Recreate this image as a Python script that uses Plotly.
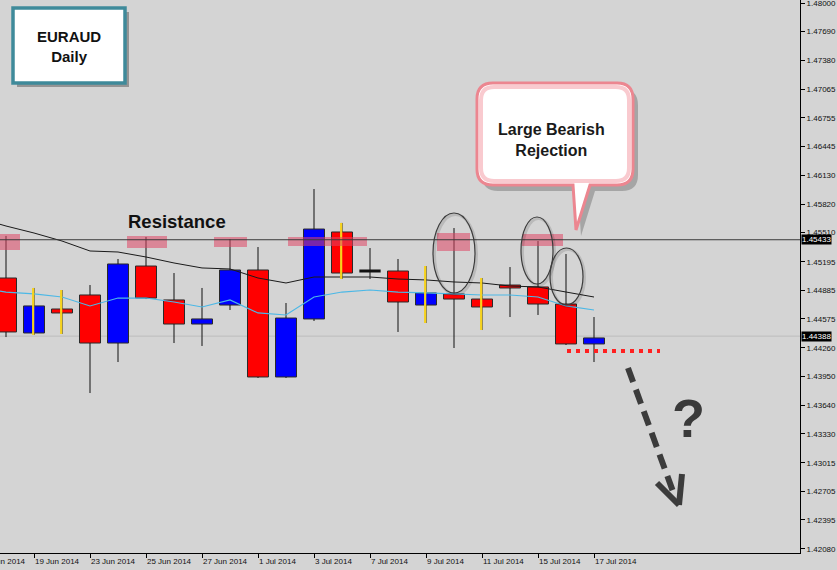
import plotly.graph_objects as go

# ---------------- data ----------------
dates = ["17 Jun 2014", "18 Jun 2014", "19 Jun 2014", "20 Jun 2014", "23 Jun 2014",
         "24 Jun 2014", "25 Jun 2014", "26 Jun 2014", "27 Jun 2014", "30 Jun 2014",
         "1 Jul 2014", "2 Jul 2014", "3 Jul 2014", "4 Jul 2014", "7 Jul 2014",
         "8 Jul 2014", "9 Jul 2014", "10 Jul 2014", "11 Jul 2014", "14 Jul 2014",
         "15 Jul 2014", "16 Jul 2014", "17 Jul 2014"]

opens  = [1.45018, 1.44422, 1.44682, 1.44834, 1.44313, 1.45148, 1.44780, 1.44519,
          1.44725, 1.45105, 1.43945, 1.44574, 1.45517, 1.45094, 1.45094, 1.44725,
          1.44845, 1.44790, 1.44942, 1.44921, 1.44736, 1.44303]
highs  = [1.45474, 1.44910, 1.44888, 1.44942, 1.45224, 1.45463, 1.45072, 1.44910,
          1.45441, 1.45354, 1.44747, 1.45983, 1.45615, 1.45343, 1.45224, 1.45148,
          1.45560, 1.45018, 1.45137, 1.45419, 1.45278, 1.44595]
lows   = [1.44378, 1.44400, 1.44411, 1.43771, 1.44107, 1.44790, 1.44313, 1.44281,
          1.44671, 1.43934, 1.43934, 1.44552, 1.45007, 1.45007, 1.44433, 1.44530,
          1.44259, 1.44454, 1.44595, 1.44617, 1.44292, 1.44107]
closes = [1.44433, 1.44715, 1.44639, 1.44313, 1.45170, 1.44801, 1.44519, 1.44574,
          1.45105, 1.43945, 1.44584, 1.45549, 1.45072, 1.45094, 1.44758, 1.44856,
          1.44790, 1.44704, 1.44910, 1.44736, 1.44303, 1.44368]

ma_slow = [1.45669, 1.45582, 1.45506, 1.45419, 1.45311, 1.45300, 1.45246, 1.45181,
           1.45127, 1.45116, 1.45018, 1.44964, 1.45029, 1.45029, 1.45029, 1.45007,
           1.44997, 1.44975, 1.44964, 1.44931, 1.44921, 1.44866, 1.44812]
ma_fast = [1.44910, 1.44866, 1.44845, 1.44812, 1.44715, 1.44801, 1.44801, 1.44758,
           1.44704, 1.44780, 1.44639, 1.44617, 1.44812, 1.44866, 1.44888, 1.44866,
           1.44856, 1.44845, 1.44834, 1.44834, 1.44812, 1.44715, 1.44671]

yellow_days = ["19 Jun 2014", "20 Jun 2014", "4 Jul 2014", "9 Jul 2014", "11 Jul 2014"]

resistance = 1.45433
last_price = 1.44388

ytick_vals = [1.48000, 1.47690, 1.47380, 1.47065, 1.46755, 1.46445, 1.46130,
              1.45820, 1.45510, 1.45195, 1.44885, 1.44575, 1.44260, 1.43950,
              1.43640, 1.43330, 1.43015, 1.42705, 1.42395, 1.42080]

# ---------------- figure ----------------
BG = "#d4d4d4"
FONT = "Liberation Sans, Arial, sans-serif"
candle_dates = dates[1:]
cx = list(range(len(candle_dates)))
ma_x = list(range(-1, len(candle_dates)))

fig = go.Figure()

# bodies
body_base, body_h, body_col, body_x = [], [], [], []
doji_x, doji_y = [], []
for i, (o, c) in enumerate(zip(opens, closes)):
    if abs(c - o) < 1e-9:
        doji_x += [i - 0.38, i + 0.38, None]
        doji_y += [c, c, None]
        continue
    body_x.append(i)
    body_base.append(min(o, c))
    body_h.append(abs(c - o))
    body_col.append("#0000ff" if c > o else "#ff0000")

fig.add_trace(go.Bar(x=body_x, y=body_h, base=body_base, width=0.75,
                     marker=dict(color=body_col, line=dict(color="#2a2a2a", width=1)),
                     hoverinfo="skip", showlegend=False))

# wicks (split so they do not cross bodies)
wx, wy = [], []
for i in cx:
    top = max(opens[i], closes[i]); bot = min(opens[i], closes[i])
    wx += [i, i, None, i, i, None]
    wy += [highs[i], top, None, bot, lows[i], None]
fig.add_trace(go.Scatter(x=wx, y=wy, mode="lines", line=dict(color="#111111", width=1),
                         hoverinfo="skip", showlegend=False))
fig.add_trace(go.Scatter(x=doji_x, y=doji_y, mode="lines", line=dict(color="#111111", width=3),
                         hoverinfo="skip", showlegend=False))

# moving averages
fig.add_trace(go.Scatter(x=ma_x, y=ma_slow, mode="lines", line=dict(color="#1a1a1a", width=1),
                         hoverinfo="skip", showlegend=False))
fig.add_trace(go.Scatter(x=ma_x, y=ma_fast, mode="lines", line=dict(color="#4cb8e6", width=1.2),
                         hoverinfo="skip", showlegend=False))

# yellow highlighted wicks
yx, yy = [], []
for d in yellow_days:
    i = candle_dates.index(d)
    yx += [i - 0.03, i - 0.03, None]
    yy += [highs[i], lows[i], None]
fig.add_trace(go.Scatter(x=yx, y=yy, mode="lines", line=dict(color="#f6d21c", width=2.2),
                         hoverinfo="skip", showlegend=False))

# ---------------- decorations (pixel helpers, plot area 800x553) ----------------
PW, PH = 800.0, 553.0
def X(p): return p / PW
def Y(p): return 1 - p / PH
def pt(x, y): return f"{X(x):.5f},{Y(y):.5f}"

shapes = []
def rect(x0, y0, x1, y1, **kw):
    shapes.append(dict(type="rect", xref="paper", yref="paper",
                       x0=X(x0), x1=X(x1), y0=Y(y1), y1=Y(y0), **kw))
def line(x0, y0, x1, y1, **kw):
    shapes.append(dict(type="line", xref="paper", yref="paper",
                       x0=X(x0), x1=X(x1), y0=Y(y0), y1=Y(y1), **kw))
def ellipse(x0, y0, x1, y1, **kw):
    shapes.append(dict(type="circle", xref="paper", yref="paper",
                       x0=X(x0), x1=X(x1), y0=Y(y1), y1=Y(y0), **kw))
def rrect_path(x0, y0, x1, y1, r, tail=None):
    s = f"M {pt(x0 + r, y0)} L {pt(x1 - r, y0)} Q {pt(x1, y0)} {pt(x1, y0 + r)} "
    s += f"L {pt(x1, y1 - r)} Q {pt(x1, y1)} {pt(x1 - r, y1)} "
    if tail:
        ta, tip, tb = tail
        s += f"L {pt(tb, y1)} L {pt(*tip)} L {pt(ta, y1)} "
    s += f"L {pt(x0 + r, y1)} Q {pt(x0, y1)} {pt(x0, y1 - r)} "
    s += f"L {pt(x0, y0 + r)} Q {pt(x0, y0)} {pt(x0 + r, y0)} Z"
    return s

# current price line
shapes.append(dict(type="line", xref="paper", yref="y", x0=0, x1=1, y0=last_price, y1=last_price,
                   line=dict(color="#bdbdbd", width=1), layer="below"))

# pink resistance zones
PINK = "rgba(222,70,100,0.55)"
for (a, b, c, d) in [(0, 234, 20, 250), (127, 236, 167, 248), (214, 237, 247, 247),
                     (288, 237, 367, 246), (437, 233, 470, 251), (522, 234, 563, 246)]:
    rect(a, b, c, d, fillcolor=PINK, line=dict(width=0))

shapes.append(dict(type="line", xref="paper", yref="y", x0=0, x1=1, y0=resistance, y1=resistance,
                   line=dict(color="#3a3a3a", width=1)))

# ellipses with soft shadow
for (a, b, c, d) in [(433, 213, 475, 293), (521, 217, 553, 284), (550, 248, 583, 305)]:
    ellipse(a + 1.5, b + 1.5, c + 1.5, d + 1.5, line=dict(color="rgba(0,0,0,0.12)", width=3))
    ellipse(a, b, c, d, line=dict(color="#3c3c3c", width=1.2))

# red dotted support line
line(567, 351, 660, 351, line=dict(color="#ff2020", width=4, dash="4px,5px"))

# dashed arrow
ARW = "#3c3c3c"
line(628, 368, 675, 497, line=dict(color=ARW, width=6, dash="15px,8px"))
line(657, 483, 679, 505, line=dict(color=ARW, width=6))
line(682, 474, 679, 505, line=dict(color=ARW, width=6))

# title box
rect(17, 12, 129, 87, fillcolor="rgba(0,0,0,0.30)", line=dict(width=0))
rect(13, 8, 125, 83, fillcolor="white", line=dict(color="#3f8a9a", width=3.5))

# callout
tail = (573, (576, 230), 590)
shapes.append(dict(type="path", xref="paper", yref="paper",
                   path=rrect_path(482, 89, 638, 191, 16, (578, (581, 236), 595)),
                   fillcolor="rgba(0,0,0,0.22)", line=dict(width=0)))
shapes.append(dict(type="path", xref="paper", yref="paper",
                   path=rrect_path(477, 83, 633, 185, 16, tail),
                   fillcolor="white", line=dict(color="#ec8690", width=3)))
shapes.append(dict(type="path", xref="paper", yref="paper",
                   path=rrect_path(481, 87, 629, 181, 13),
                   fillcolor="rgba(0,0,0,0)", line=dict(color="rgba(246,180,186,0.7)", width=4)))

def label(x, y, text, size, color="#111111", family=FONT):
    return dict(xref="paper", yref="paper", x=X(x), y=Y(y), text=text, showarrow=False,
                xanchor="center", yanchor="middle", align="center",
                font=dict(family=family, size=size, color=color))

annotations = [
    label(69, 46, "<b>EURAUD</b><br><b>Daily</b>", 15),
    label(177, 221, "<b>Resistance</b>", 18.5),
    label(551, 140, "<b>Large Bearish</b><br><b>Rejection</b>", 16, "#1a1a1a"),
    label(688, 418, "<b>?</b>", 54, "#3a3a3a"),
    # partially visible first date label (its tick lies left of the visible area)
    dict(xref="paper", yref="paper", x=X(-21), y=Y(561), text=dates[0], showarrow=False,
         xanchor="left", yanchor="middle", font=dict(family=FONT, size=8, color="#111111")),
]
for v in (resistance, last_price):
    annotations.append(dict(xref="paper", yref="y", x=1, y=v, xanchor="left", yanchor="middle",
                            xshift=1, text=f"{v:.5f}", showarrow=False, bgcolor="#000000",
                            borderpad=0, font=dict(family=FONT, size=8, color="white")))

xtick_idx = list(range(1, len(candle_dates), 2))
fig.update_layout(
    width=837, height=570, autosize=False,
    margin=dict(l=0, r=37, t=0, b=17),
    paper_bgcolor=BG, plot_bgcolor=BG,
    showlegend=False, hovermode=False, bargap=0,
    shapes=shapes, annotations=annotations,
    font=dict(family=FONT, size=8, color="#111111"),
)
fig.update_xaxes(range=[-0.2143, 28.357], showgrid=False, zeroline=False,
                 showline=True, linecolor="#000000", linewidth=1,
                 ticks="outside", ticklen=4, tickcolor="#000000",
                 tickvals=xtick_idx, ticktext=[dates[i + 1] for i in xtick_idx],
                 ticklabelposition="outside right", ticklabeloverflow="allow",
                 tickfont=dict(size=8))
fig.update_yaxes(range=[1.420363, 1.480325], side="right", showgrid=False, zeroline=False,
                 showline=True, linecolor="#000000", linewidth=1,
                 ticks="outside", ticklen=4, tickcolor="#000000",
                 tickvals=ytick_vals, ticktext=[f"{v:.5f}" for v in ytick_vals],
                 ticklabeloverflow="allow", tickfont=dict(size=8))

fig.write_html("out.html", config={"displayModeBar": False, "staticPlot": True},
               post_script="document.body.style.margin='0';document.body.style.overflow='hidden';"
                           "document.body.style.background='" + BG + "';")
